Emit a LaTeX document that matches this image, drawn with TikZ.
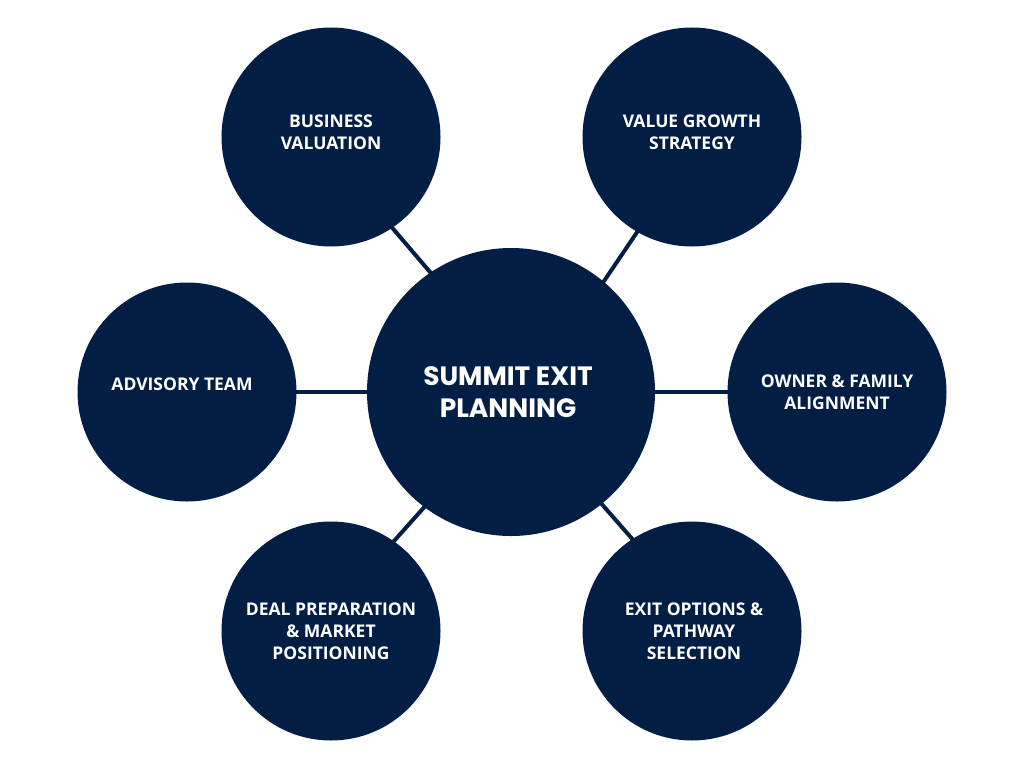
\documentclass[tikz,border=0pt]{standalone}
\usepackage{fontspec}
\setmainfont{Open Sans}
\newfontfamily\centerfont{Poppins}
\definecolor{navy}{HTML}{031E45}
\begin{document}
\begin{tikzpicture}[x=1pt,y=-1pt,
  hub/.style={circle,fill=navy,minimum size=288pt,inner sep=0pt},
  hubtext/.style={text=white,align=center,inner sep=0pt,font=\centerfont\bfseries\fontsize{26.5}{32}\selectfont},
  spoke/.style={circle,fill=navy,minimum size=219pt,inner sep=0pt},
  spoketext/.style={text=white,align=center,inner sep=0pt,font=\bfseries\fontsize{17.5}{22}\selectfont},
  link/.style={draw=navy,line width=4pt,line cap=round}]
\useasboundingbox[fill=white] (0,0) rectangle (1024,768);
\node[hub] (c) at (511,392) {};
\node[spoke] (bv) at (331,137) {};
\node[spoke] (vg) at (692,137) {};
\node[spoke] (at) at (187,392) {};
\node[spoke] (of) at (837,392) {};
\node[spoke] (dp) at (331,631) {};
\node[spoke] (eo) at (692,631) {};
\draw[link] (c.124) -- (bv.304);
\draw[link] (c.50) -- (vg.240);
\draw[link] (c.180) -- (at.0);
\draw[link] (c.0) -- (of.180);
\draw[link] (c.233) -- (dp.55);
\draw[link] (c.-51) -- (eo.123);
\node[hubtext] (ct) at (508,392) {SUMMIT EXIT\\PLANNING};
\node[spoketext] (bvt) at (331,132) {BUSINESS\\VALUATION};
\node[spoketext] (vgt) at (692,132) {VALUE GROWTH\\STRATEGY};
\node[spoketext] (att) at (182,384) {ADVISORY TEAM};
\node[spoketext] (oft) at (837,392) {OWNER \& FAMILY\\ALIGNMENT};
\node[spoketext] (dpt) at (331,631) {DEAL PREPARATION\\\& MARKET\\POSITIONING};
\node[spoketext] (eot) at (694,631) {EXIT OPTIONS \&\\PATHWAY\\SELECTION};
\end{tikzpicture}
\end{document}
